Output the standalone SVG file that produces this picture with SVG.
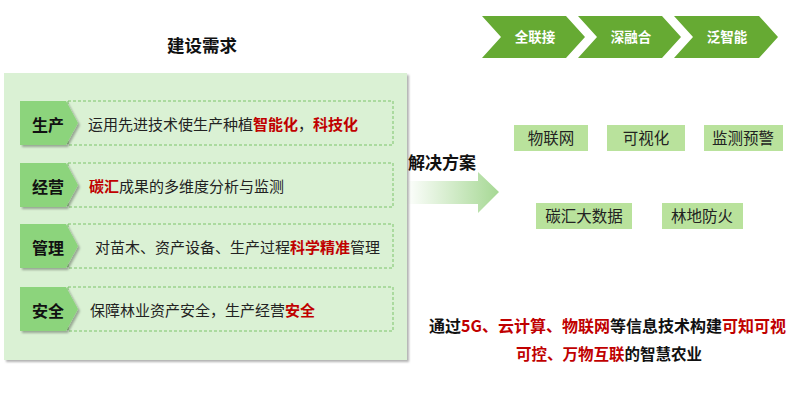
<svg xmlns="http://www.w3.org/2000/svg" width="800" height="401" viewBox="0 0 800 401">
<defs>
<style>
text{font-family:"Noto Sans CJK SC","Noto Sans",sans-serif;}
.tag{fill:#8CD47C;}
.tagt{font-size:16px;font-weight:bold;fill:#111;}
.desc{font-size:15px;fill:#222;}
.red{fill:#C00000;font-weight:bold;}
.dash{fill:none;stroke:#7DC46A;stroke-width:1;stroke-dasharray:3 2;}
.chev{fill:#66AA33;}
.chevt{font-size:13.5px;font-weight:bold;fill:#fff;}
.box{fill:#B9E29C;}
.boxt{font-size:15.5px;fill:#222;}
.bold{font-weight:bold;}
</style>
<filter id="sh" x="-10%" y="-10%" width="130%" height="130%">
<feDropShadow dx="2" dy="2" stdDeviation="1.2" flood-color="#000" flood-opacity="0.3"/>
</filter>
<linearGradient id="ag" x1="0" y1="0" x2="1" y2="0">
<stop offset="0" stop-color="#A6D894" stop-opacity="0"/>
<stop offset="1" stop-color="#A6D894"/>
</linearGradient>
</defs>
<rect width="800" height="401" fill="#fff"/>
<text x="167" y="52" font-size="17.5" class="bold" fill="#111">建设需求</text>
<g id="panel">
<rect x="4" y="73" width="403" height="287" fill="#DAF1D4" filter="url(#sh)"/>
</g>
<g id="row1">
<rect class="dash" x="68" y="101" width="325" height="44"/>
<polygon class="tag" points="20,101 66,101 78,123 66,145 20,145" filter="url(#sh)"/>
<text class="tagt" x="32" y="131">生产</text>
<text class="desc" x="88" y="130">运用先进技术使生产种植<tspan class="red">智能化</tspan>，<tspan class="red">科技化</tspan></text>
</g>
<g id="row2">
<rect class="dash" x="68" y="163" width="325" height="44"/>
<polygon class="tag" points="20,163 66,163 78,185 66,207 20,207" filter="url(#sh)"/>
<text class="tagt" x="32" y="193">经营</text>
<text class="desc" x="89" y="192"><tspan class="red">碳汇</tspan>成果的多维度分析与监测</text>
</g>
<g id="row3">
<rect class="dash" x="68" y="224" width="325" height="44"/>
<polygon class="tag" points="20,224 66,224 78,246 66,268 20,268" filter="url(#sh)"/>
<text class="tagt" x="32" y="254">管理</text>
<text class="desc" x="95" y="253">对苗木、资产设备、生产过程<tspan class="red">科学精准</tspan>管理</text>
</g>
<g id="row4">
<rect class="dash" x="68" y="287" width="325" height="44"/>
<polygon class="tag" points="20,287 66,287 78,309 66,331 20,331" filter="url(#sh)"/>
<text class="tagt" x="32" y="317">安全</text>
<text class="desc" x="90" y="316">保障林业资产安全，生产经营<tspan class="red">安全</tspan></text>
</g>
<g id="chevrons">
<polygon class="chev" points="482,16 566,16 585,37 566,58 482,58 501,37"/>
<text class="chevt" x="535" y="42" text-anchor="middle">全联接</text>
<polygon class="chev" points="578,16 662,16 681,37 662,58 578,58 597,37"/>
<text class="chevt" x="631" y="42" text-anchor="middle">深融合</text>
<polygon class="chev" points="674,16 759,16 778,37 759,58 674,58 693,37"/>
<text class="chevt" x="727" y="42" text-anchor="middle">泛智能</text>
</g>
<g id="connectors">
<polygon fill="url(#ag)" points="405,181 478,181 478,172 499,192 478,213 478,204 405,204"/>
</g>
<text x="408" y="169" font-size="17" class="bold" fill="#111">解决方案</text>
<g id="box1"><rect class="box" x="514" y="125" width="74" height="26"/><text class="boxt" x="551" y="144" text-anchor="middle">物联网</text></g>
<g id="box2"><rect class="box" x="607" y="125" width="78" height="26"/><text class="boxt" x="646" y="144" text-anchor="middle">可视化</text></g>
<g id="box3"><rect class="box" x="704" y="125" width="79" height="26"/><text class="boxt" x="743" y="144" text-anchor="middle">监测预警</text></g>
<g id="box4"><rect class="box" x="536" y="203" width="96" height="26"/><text class="boxt" x="584" y="222" text-anchor="middle">碳汇大数据</text></g>
<g id="box5"><rect class="box" x="662" y="203" width="81" height="26"/><text class="boxt" x="702" y="222" text-anchor="middle">林地防火</text></g>
<text x="429" y="332" font-size="16" class="bold" fill="#111">通过<tspan fill="#C00000">5G、云计算、物联网</tspan>等信息技术构建<tspan fill="#C00000">可知可视</tspan></text>
<text x="609" y="360" font-size="15.5" class="bold" fill="#111" text-anchor="middle"><tspan fill="#C00000">可控、万物互联</tspan>的智慧农业</text>
</svg>
